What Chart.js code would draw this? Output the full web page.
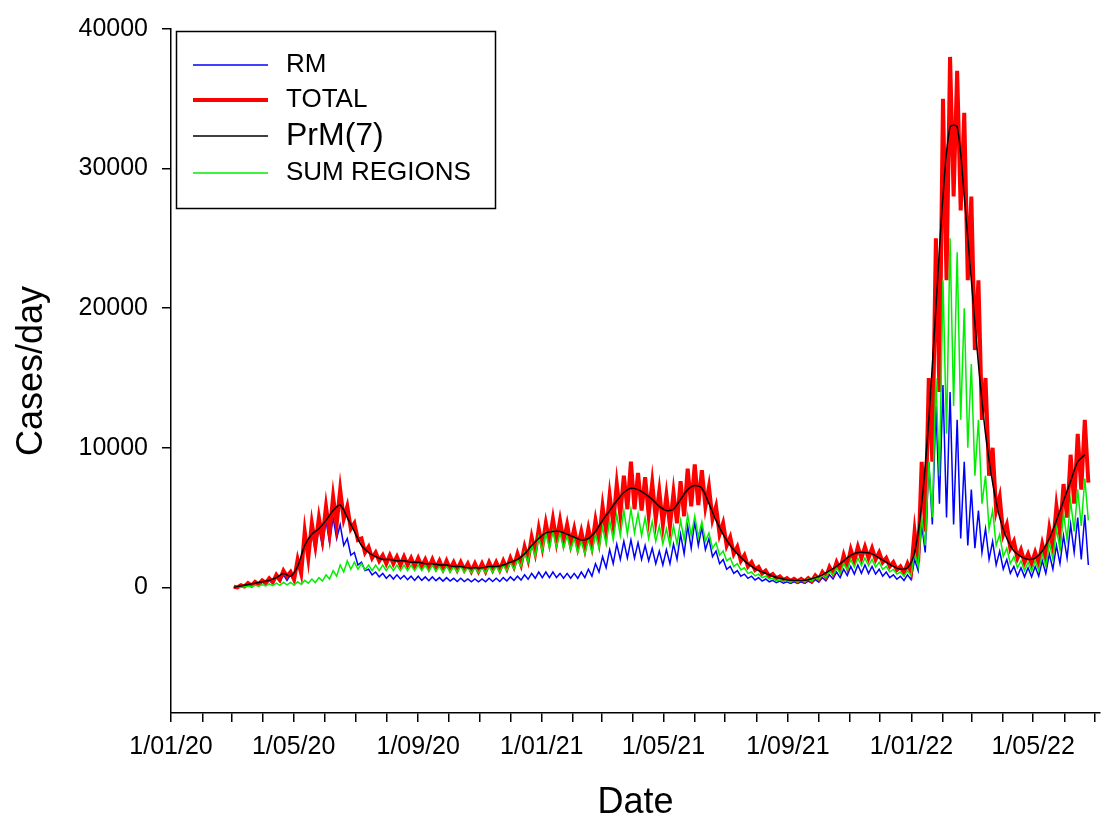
<!DOCTYPE html>
<html><head><meta charset="utf-8">
<script src="https://cdn.jsdelivr.net/npm/chart.js@4"></script>
<style>body{margin:0;background:#fff}canvas{display:block}</style>
</head><body>
<canvas id="c" width="1110" height="829"></canvas>
<script>
// Day offsets since 1/01/20; weekly samples start at day 62
const startDay = 62;
const prm = [0,100,200,300,400,500,700,1000,800,1500,3000,3800,4200,4800,5500,5900,5000,4000,3000,2500,
2200,2000,2000,1900,1900,1800,1800,1700,1700,1600,1600,1500,1500,1400,1400,1400,1500,1500,1600,1800,
2000,2400,3000,3500,3900,4000,4000,3800,3600,3400,3500,4000,4800,5500,6200,6800,7100,7000,6700,6300,
5800,5500,5600,6300,7000,7300,7100,6000,4800,3800,3000,2400,1900,1500,1200,1000,800,650,550,500,
500,550,700,900,1200,1500,1900,2300,2500,2500,2400,2100,1800,1500,1300,1400,2500,6000,12000,20000,
28000,33000,33000,28000,22000,16000,11000,7500,5000,3500,2600,2200,2000,2100,2600,3500,4800,6200,7600,9000,9500];
const totalHi = [50,150,300,400,500,650,900,1200,1100,2000,4000,4600,5000,5800,6500,7000,5800,4600,3500,2900,
2500,2300,2300,2200,2200,2100,2100,2000,2000,1900,1900,1800,1800,1700,1700,1700,1800,1800,1900,2100,
2400,2900,3600,4200,4600,4900,4800,4500,4200,4000,4200,4800,5800,6600,7400,8000,9000,8200,7900,7500,
6900,6600,6800,7600,8500,8800,8400,7200,5800,4600,3600,2900,2300,1800,1450,1200,950,780,660,600,
600,660,850,1100,1450,1800,2300,2700,2900,2900,2800,2500,2100,1800,1500,1700,4000,9000,15000,25000,
35000,38000,37000,34000,28000,22000,15000,10000,6500,4500,3300,2700,2400,2500,3100,4200,5800,7400,9500,11000,12000];
const totalLo = [0,60,120,220,320,380,550,800,550,1000,2100,3000,3500,3900,4500,4900,4200,3400,2500,2100,
1900,1700,1700,1600,1600,1500,1500,1400,1400,1300,1300,1250,1250,1150,1150,1150,1250,1250,1350,1500,
1650,2000,2500,2900,3300,3300,3300,3100,2900,2800,3000,3400,4000,4600,5200,5600,5600,5500,5200,4900,
4500,4400,4600,5100,5800,5900,5800,4900,3800,3000,2400,1900,1500,1250,1000,800,650,530,450,420,
420,450,580,750,1000,1250,1500,1900,2100,2100,2000,1800,1500,1250,1050,1100,1800,4000,9000,14000,
22000,28000,27000,22000,17000,12000,8000,5500,3800,2800,2100,1800,1700,1750,2100,2900,3900,5000,6000,7000,7500];
const rmHi = [30,100,200,300,400,500,700,900,900,1800,3500,4000,4300,4800,5000,4500,3500,2500,1800,1300,
1100,1000,900,900,850,800,800,750,750,700,700,650,650,600,600,600,650,650,700,750,
800,900,1000,1100,1100,1100,1000,1000,1000,1100,1300,1700,2200,2700,3100,3300,3400,3200,3000,2800,
2600,2700,3100,3800,4400,4700,4300,3500,2600,2000,1500,1200,950,800,700,600,500,450,400,400,
400,450,550,700,900,1100,1300,1500,1600,1600,1500,1300,1100,900,800,900,2000,4500,9000,13000,
14500,14000,12000,9000,7000,5500,4200,3300,2600,2000,1500,1400,1400,1500,1900,2400,3000,3700,4500,5000,5200];
const rmLo = [0,40,100,150,200,280,400,500,450,900,2000,2600,2900,3200,3500,3000,2300,1600,1200,900,
750,650,600,600,550,500,500,480,480,450,450,420,420,400,400,400,420,420,460,500,
520,580,650,700,700,700,650,650,650,700,800,1100,1400,1700,2000,2100,2100,2000,1900,1700,
1600,1700,2000,2400,2800,3000,2700,2200,1700,1300,1000,800,650,530,450,400,330,300,280,280,
280,300,370,470,600,700,850,950,1000,1000,950,800,700,580,500,550,1200,2500,4500,6000,
5000,4500,3500,3000,2800,2500,2000,1600,1300,1000,800,750,750,800,1000,1300,1700,2100,2500,2000,1600];
const sumHi = [0,50,100,150,200,250,300,350,350,400,500,600,700,900,1200,1600,1900,1800,1700,1600,
1600,1600,1600,1600,1600,1600,1600,1600,1600,1500,1500,1500,1500,1400,1400,1400,1500,1500,1600,1800,
2000,2500,3100,3600,3900,4000,3900,3700,3500,3300,3400,3800,4300,4800,5200,5500,5600,5300,5000,4700,
4400,4200,4400,4800,5200,5100,4700,3900,3200,2600,2100,1700,1400,1100,950,800,650,550,500,500,
550,600,750,950,1200,1400,1700,2000,2100,2100,2000,1800,1500,1300,1100,1200,2500,5000,9000,15000,
22000,25000,24000,20000,16000,12000,8000,5500,3800,2800,2200,1900,1800,1900,2400,3200,4200,5300,6200,7000,7800];
const sumLo = [0,20,50,80,100,120,150,180,170,220,300,350,450,600,800,1100,1300,1300,1250,1200,
1200,1200,1200,1200,1200,1200,1200,1150,1150,1100,1100,1100,1100,1050,1050,1050,1100,1100,1200,1300,
1500,1800,2200,2600,2800,2900,2800,2700,2500,2400,2500,2800,3100,3400,3700,3800,3900,3700,3500,3300,
3100,3000,3100,3400,3700,3600,3300,2800,2300,1900,1500,1250,1000,820,700,600,480,400,370,370,
400,440,550,700,880,1000,1250,1450,1550,1550,1450,1300,1100,950,800,850,1500,3000,5000,8000,
11000,13000,12000,10000,8000,6000,4200,3000,2200,1700,1400,1200,1150,1200,1500,2000,2700,3400,4000,4400,4800];
const monthDays = [0,31,60,91,121,152,182,213,244,274,305,335,366,397,425,456,486,517,547,578,609,639,670,700,731,762,790,821,851,882,912];
const majorDays = [0,121,244,366,486,609,731,851];
const majorLabels = ['1/01/20','1/05/20','1/09/20','1/01/21','1/05/21','1/09/21','1/01/22','1/05/22'];
const yTicks = [0,10000,20000,30000,40000];

function zig(hi, lo){const o=[];hi.forEach((h,k)=>{o.push({x:startDay+7*k,y:h});o.push({x:startDay+7*k+3.5,y:lo[k]});});return o;}
const prmPts = prm.map((v,k)=>({x:startDay+7*k,y:v}));
const FF = 'Arial, "Liberation Sans", sans-serif';

const legendPlugin = {id:'lg',afterDraw(ch){
  const c=ch.ctx; c.save();
  c.strokeStyle='#000'; c.lineWidth=1.5; c.strokeRect(176.5,31.5,319,177);
  const items=[['RM','#0000ff',1.5,26,65],['TOTAL','#ff0000',4,26,100],['PrM(7)','#000',1.5,32,136],['SUM REGIONS','#00ee00',1.5,26,173]];
  items.forEach(([t,col,w,fs,y])=>{c.strokeStyle=col;c.lineWidth=w;c.beginPath();c.moveTo(193,y);c.lineTo(268,y);c.stroke();
    c.fillStyle='#000';c.font=fs+'px '+FF;c.textBaseline='middle';c.fillText(t,286,y);});
  c.restore();}};

new Chart(document.getElementById('c'),{type:'line',
 data:{datasets:[
  {label:'PrM(7)',data:prmPts,borderColor:'#000',borderWidth:1.5,pointRadius:0,tension:0.3,order:0},
  {label:'SUM REGIONS',data:zig(sumHi,sumLo),borderColor:'#00ee00',borderWidth:1.5,pointRadius:0,order:1},
  {label:'TOTAL',data:zig(totalHi,totalLo),borderColor:'#ff0000',borderWidth:4,pointRadius:0,order:2},
  {label:'RM',data:zig(rmHi,rmLo),borderColor:'#0000ff',borderWidth:1.5,pointRadius:0,order:3}
 ]},
 options:{responsive:false,animation:false,
  layout:{padding:{top:27,right:10,left:0,bottom:0}},
  plugins:{legend:{display:false},tooltip:{enabled:false}},
  scales:{
   x:{type:'linear',min:0,max:917,
    afterBuildTicks(s){s.ticks=monthDays.map(v=>({value:v}));},
    afterFit(s){s.height=116;},
    grid:{display:true,drawOnChartArea:false,tickLength:9,color:'#000',lineWidth:1.5},
    border:{color:'#000',width:1.5},
    ticks:{color:'#000',maxRotation:0,autoSkip:false,font:{size:25,family:FF},padding:10,
     callback(v){const i=majorDays.indexOf(v);return i>=0?majorLabels[i]:'';}},
    title:{display:true,text:'Date',color:'#000',font:{size:36,family:FF},padding:{top:22}}},
   y:{min:-9000,max:40000,
    afterBuildTicks(s){s.ticks=yTicks.map(v=>({value:v}));},
    afterFit(s){s.width=171;},
    grid:{display:true,drawOnChartArea:false,tickLength:9,color:'#000',lineWidth:1.5},
    border:{color:'#000',width:1.5},
    ticks:{color:'#000',font:{size:25,family:FF},padding:14,callback:v=>String(v)},
    title:{display:true,text:'Cases/day',color:'#000',font:{size:36,family:FF},padding:{top:10,bottom:10}}}
  }},
 plugins:[legendPlugin]});
</script>
</body></html>
